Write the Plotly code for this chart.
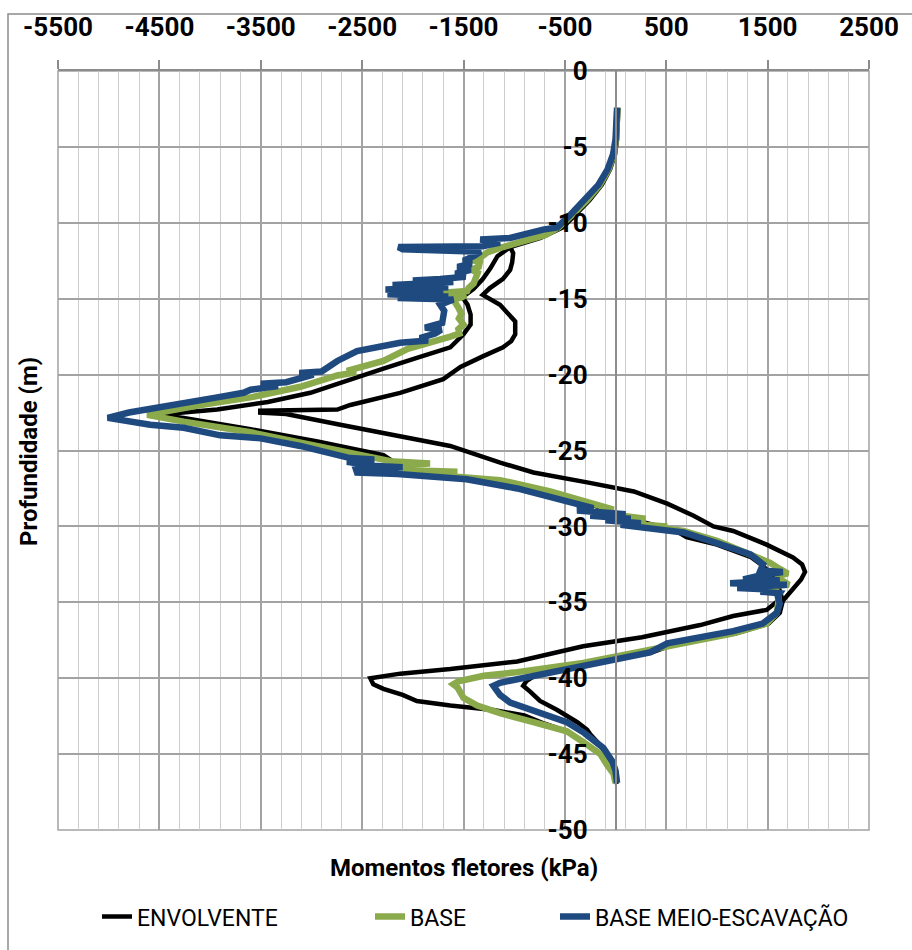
import plotly.graph_objects as go

# ---------------------------------------------------------------------------
# Bending moment profiles along the wall (depth in m, moment in kPa)
# ---------------------------------------------------------------------------

# ENVOLVENTE: upper/right branch of the envelope
env_right_depth = [-2.42, -3.5, -4.5, -5.5, -6.5, -7.5, -8.5, -9.5, -10.3, -11.0,
                   -11.6, -12.0, -12.6, -13.1, -13.7, -14.3, -14.75, -15.4, -16.0, -16.5,
                   -17.35, -17.8, -18.2, -18.6, -18.8, -19.5, -20.3, -21.2, -21.7, -22.0,
                   -22.3, -22.38, -22.5, -22.6, -23.3, -24.1, -24.7, -25.8, -26.45, -27.1,
                   -27.7, -28.5, -29.3, -30.0, -30.3, -31.2, -32.05, -32.5, -33.0, -33.5,
                   -33.8, -34.2, -34.9, -35.7, -36.4, -37.05, -37.8, -38.3, -39.1, -39.8,
                   -40.2, -40.5, -40.9, -41.5, -42.1, -42.9, -43.4, -43.7, -44.2, -44.7,
                   -45.5, -46.3, -46.97]
env_right_moment = [28, 25, 15, -5, -55, -135, -255, -400, -520, -740,
                    -1040, -1010, -1020, -1040, -1110, -1240, -1310, -1140, -1050, -990,
                    -990, -1030, -1110, -1250, -1310, -1530, -1700, -2125, -2420, -2616,
                    -2745, -3505, -3505, -3250, -2715, -2124, -1631, -1138, -810, -280,
                    180, 510, 770, 966, 1160, 1490, 1750, 1840, 1869, 1830,
                    1790, 1740, 1650, 1620, 1510, 1190, 560, 360, -280, -790,
                    -880, -911, -840, -745, -575, -378, -280, -250, -180, -120,
                    -50, -20, 15]

# ENVOLVENTE: lower/left branch of the envelope
env_left_depth = [-11.6, -12.2, -13.0, -13.7, -14.35, -14.9, -15.4, -16.05, -16.7, -17.35,
                  -18.2, -18.6, -18.9, -19.6, -20.3, -21.2, -21.8, -22.3, -22.65, -22.85,
                  -23.6, -24.4, -25.3, -25.7, -26.3, -26.6, -26.95, -27.7, -28.7, -29.5,
                  -30.3, -30.7, -31.2, -32.0, -32.6, -33.1, -33.8, -34.7, -35.5, -35.9,
                  -36.5, -37.3, -37.9, -38.9, -39.4, -39.7, -40.0, -40.4, -40.7, -41.1,
                  -41.5, -41.8, -42.1, -42.45, -43.0, -43.5, -44.2, -45.0, -45.7, -46.3,
                  -46.9]
env_left_moment = [-1040, -1165, -1235, -1310, -1400, -1510, -1460, -1430, -1430, -1500,
                   -1630, -1800, -1960, -2290, -2616, -3010, -3430, -3930, -4520, -4260,
                   -3600, -2940, -2290, -2200, -2040, -1800, -1180, -680, -180, 150,
                   600, 700, 1000, 1330, 1455, 1525, 1600, 1640, 1490, 1160,
                   835, 260, -320, -970, -1630, -2124, -2419, -2390, -2290, -2100,
                   -1960, -1630, -1205, -900, -700, -480, -320, -150, -85, -20,
                   0]

# BASE
base_depth = [-2.42, -3.5, -4.5, -5.5, -6.5, -7.5, -8.5, -9.5, -10.3, -10.8,
              -11.0, -11.4, -11.65, -11.95, -12.3, -12.45, -12.6, -12.9, -13.1, -13.3,
              -13.7, -14.0, -14.3, -14.5, -14.6, -14.75, -14.9, -15.07, -15.6, -16.0,
              -16.3, -16.7, -17.0, -17.3, -17.5, -17.8, -18.3, -19.1, -19.6, -19.75,
              -19.85, -20.06, -20.8, -21.5, -22.0, -22.5, -22.65, -22.8, -23.1, -23.8,
              -24.5, -25.2, -25.7, -25.85, -25.95, -26.3, -26.4, -26.5, -26.7, -26.95,
              -27.7, -28.7, -28.9, -29.0, -29.3, -29.5, -29.6, -29.9, -30.0, -30.1,
              -30.3, -30.95, -31.85, -32.4, -32.8, -33.1, -33.3, -33.6, -33.85, -34.0,
              -34.1, -34.5, -34.8, -35.7, -36.4, -37.05, -37.9, -38.1, -39.0, -39.6,
              -39.84, -40.2, -40.4, -40.6, -40.9, -41.3, -41.8, -42.3, -42.9, -43.5,
              -44.2, -45.0, -45.7, -46.3, -46.9]
base_moment = [18, 15, 5, -18, -70, -155, -280, -430, -560, -690,
               -810, -1040, -1140, -1265, -1335, -1420, -1340, -1350, -1420, -1360,
               -1380, -1400, -1450, -1465, -1700, -1480, -1515, -1600, -1550, -1520,
               -1545, -1500, -1550, -1540, -1630, -1800, -2050, -2290, -2550, -2650,
               -2560, -2745, -3110, -3600, -4095, -4490, -4620, -4500, -4260, -3600,
               -3110, -2616, -2220, -1830, -2150, -2050, -1560, -2000, -1600, -1140,
               -645, -150, -20, -120, 60, 295, 150, 300, 510, 450,
               670, 1000, 1330, 1525, 1620, 1700, 1580, 1650, 1710, 1300,
               1580, 1600, 1610, 1590, 1490, 1160, 510, 340, -320, -970,
               -1300, -1550, -1600, -1560, -1530, -1500, -1365, -1140, -810, -480,
               -320, -150, -85, -20, 0]

# BASE MEIO-ESCAVAÇÃO
meio_depth = [-2.42, -3.5, -4.5, -5.5, -6.5, -7.5, -8.5, -9.5, -10.3, -10.45,
              -11.0, -11.1, -11.3, -11.55, -11.6, -11.75, -11.9, -12.2, -12.5, -12.7,
              -12.9, -13.1, -13.35, -13.55, -13.7, -13.8, -13.9, -14.1, -14.25, -14.4,
              -14.55, -14.7, -14.85, -14.95, -15.05, -15.4, -15.8, -16.2, -16.6, -16.9,
              -17.05, -17.3, -17.6, -17.75, -17.9, -18.45, -19.1, -19.8, -19.9, -20.0,
              -20.5, -20.6, -20.75, -21.0, -21.2, -21.5, -21.9, -22.2, -22.5, -22.85,
              -23.0, -23.3, -23.5, -24.0, -24.15, -24.2, -24.7, -25.1, -25.5, -25.6,
              -25.75, -26.0, -26.1, -26.25, -26.45, -26.55, -26.7, -26.9, -27.5, -28.3,
              -28.8, -28.95, -29.05, -29.2, -29.3, -29.5, -29.6, -29.8, -29.9, -30.1,
              -30.25, -30.4, -31.1, -31.85, -32.5, -32.9, -33.0, -33.2, -33.5, -33.55,
              -33.75, -33.85, -34.05, -34.15, -34.3, -34.4, -34.6, -35.1, -35.7, -36.4,
              -36.9, -37.7, -38.3, -39.2, -39.8, -40.3, -40.5, -40.8, -41.1, -41.6,
              -42.2, -42.9, -43.6, -44.6, -45.5, -46.1, -46.9]
meio_moment = [15, 12, 0, -25, -80, -170, -300, -450, -575, -715,
               -1040, -1335, -1140, -1310, -2143, -2100, -1330, -1400, -1500, -1420,
               -1560, -1430, -1580, -1480, -1730, -2000, -1600, -2200, -1650, -2270,
               -1700, -2250, -1650, -2150, -1600, -1730, -1690, -1700, -1710, -1880,
               -1720, -1780, -1930, -1850, -2125, -2550, -2745, -2900, -3120, -2980,
               -3250, -3500, -3330, -3600, -3670, -3930, -4260, -4590, -4800, -5010,
               -4850, -4590, -4260, -3900, -3600, -3500, -3110, -2850, -2620, -2380,
               -2650, -2400, -2100, -2560, -2550, -2150, -1800, -1470, -970, -480,
               -220, -380, -150, 100, -250, 150, -100, 250, 50, 330,
               400, 670, 1000, 1330, 1455, 1430, 1650, 1450, 1260, 1620,
               1130, 1690, 1200, 1490, 1430, 1620, 1600, 1620, 1590, 1450,
               1160, 510, 340, -320, -810, -1140, -1205, -1170, -1140, -1040,
               -770, -480, -310, -120, -30, 0, 15]

# Axis ticks
x_tick_values = [-5500, -4500, -3500, -2500, -1500, -500, 500, 1500, 2500]
x_tick_labels = ["-5500", "-4500", "-3500", "-2500", "-1500", "-500", "500", "1500", "2500"]
x_minor_step = 200
y_tick_values = [0, -5, -10, -15, -20, -25, -30, -35, -40, -45, -50]
y_tick_labels = ["0", "-5", "-10", "-15", "-20", "-25", "-30", "-35", "-40", "-45", "-50"]

# ---------------------------------------------------------------------------
FONT = "Roboto"
MAJOR_GRID = "#a3a3a3"
MINOR_GRID = "#cdcdcd"
AXIS_LINE = "#8c8c8c"
GREEN = "#8AAA4C"
BLUE = "#1F4A7F"

x_min, x_max = x_tick_values[0], x_tick_values[-1]
x_minor_values = list(range(x_min, x_max + 1, x_minor_step))

# the envelope is one series made of two branches
env_x = env_right_moment + [None] + env_left_moment
env_y = env_right_depth + [None] + env_left_depth

fig = go.Figure()
fig.add_trace(go.Scatter(x=env_x, y=env_y, mode="lines", name="ENVOLVENTE",
                         line=dict(color="black", width=4.5), legend="legend"))
fig.add_trace(go.Scatter(x=base_moment, y=base_depth, mode="lines", name="BASE",
                         line=dict(color=GREEN, width=6.5), legend="legend2"))
fig.add_trace(go.Scatter(x=meio_moment, y=meio_depth, mode="lines", name="BASE MEIO-ESCAVAÇÃO",
                         line=dict(color=BLUE, width=6.5), legend="legend3"))

# plot area geometry (pixels) used to place titles and legends
L, T, W, H = 58, 66, 811, 771
FIG_W, FIG_H = 912, 950


def px_x(px):
    return (px - L) / W


def px_y(py):
    return (T + H - py) / H


legend_common = dict(orientation="h", xanchor="left", yanchor="middle",
                     bgcolor="rgba(0,0,0,0)", borderwidth=0,
                     font=dict(family=FONT, size=23, color="black"))

fig.update_layout(
    width=FIG_W, height=FIG_H,
    showlegend=True,
    margin=dict(l=L, r=FIG_W - L - W, t=T, b=FIG_H - T - H, pad=0),
    paper_bgcolor="white", plot_bgcolor="white",
    font=dict(family=FONT, color="black"),
    xaxis=dict(
        range=[x_min, x_max], side="top",
        tickmode="array", tickvals=x_tick_values, ticktext=x_tick_labels,
        tickfont=dict(family=FONT, size=26, weight="bold", color="black"),
        ticks="outside", ticklen=9, tickwidth=1.5, tickcolor=AXIS_LINE,
        ticklabelstandoff=14,
        showline=True, linecolor=AXIS_LINE, linewidth=1.5,
        showgrid=True, gridcolor=MAJOR_GRID, gridwidth=1.5, zeroline=False,
        minor=dict(tickmode="array", tickvals=x_minor_values, ticks="",
                   showgrid=True, gridcolor=MINOR_GRID, gridwidth=1.3),
    ),
    yaxis=dict(
        range=[-50, 0], anchor="free", position=(0 - x_min) / (x_max - x_min),
        tickmode="array", tickvals=y_tick_values, ticktext=y_tick_labels,
        tickfont=dict(family=FONT, size=26, weight="bold", color="black"),
        ticks="", ticklabelstandoff=22,
        showline=True, linecolor=AXIS_LINE, linewidth=1.5,
        showgrid=True, gridcolor=MAJOR_GRID, gridwidth=1.5, zeroline=False,
    ),
    legend=dict(x=px_x(97), y=px_y(925), **legend_common),
    legend2=dict(x=px_x(370), y=px_y(925), **legend_common),
    legend3=dict(x=px_x(555), y=px_y(925), **legend_common),
    annotations=[
        dict(text="Momentos fletores (kPa)", xref="paper", yref="paper",
             x=0.5, y=px_y(876), xanchor="center", yanchor="middle", showarrow=False,
             font=dict(family=FONT, size=24, weight="bold", color="black")),
        dict(text="Profundidade (m)", xref="paper", yref="paper",
             x=px_x(29), y=px_y(453), xanchor="center", yanchor="middle", showarrow=False,
             textangle=-90, font=dict(family=FONT, size=24, weight="bold", color="black")),
    ],
    shapes=[
        # frame of the plotting area
        dict(type="rect", xref="paper", yref="paper", x0=0, x1=1, y0=0, y1=1,
             line=dict(color=MAJOR_GRID, width=1.5), layer="below"),
        # outer chart border
        dict(type="rect", xref="paper", yref="paper",
             x0=px_x(8), x1=px_x(FIG_W + 20), y0=px_y(FIG_H + 20), y1=px_y(8),
             line=dict(color=AXIS_LINE, width=1.5), layer="below"),
    ],
)

fig.write_html("out.html")
